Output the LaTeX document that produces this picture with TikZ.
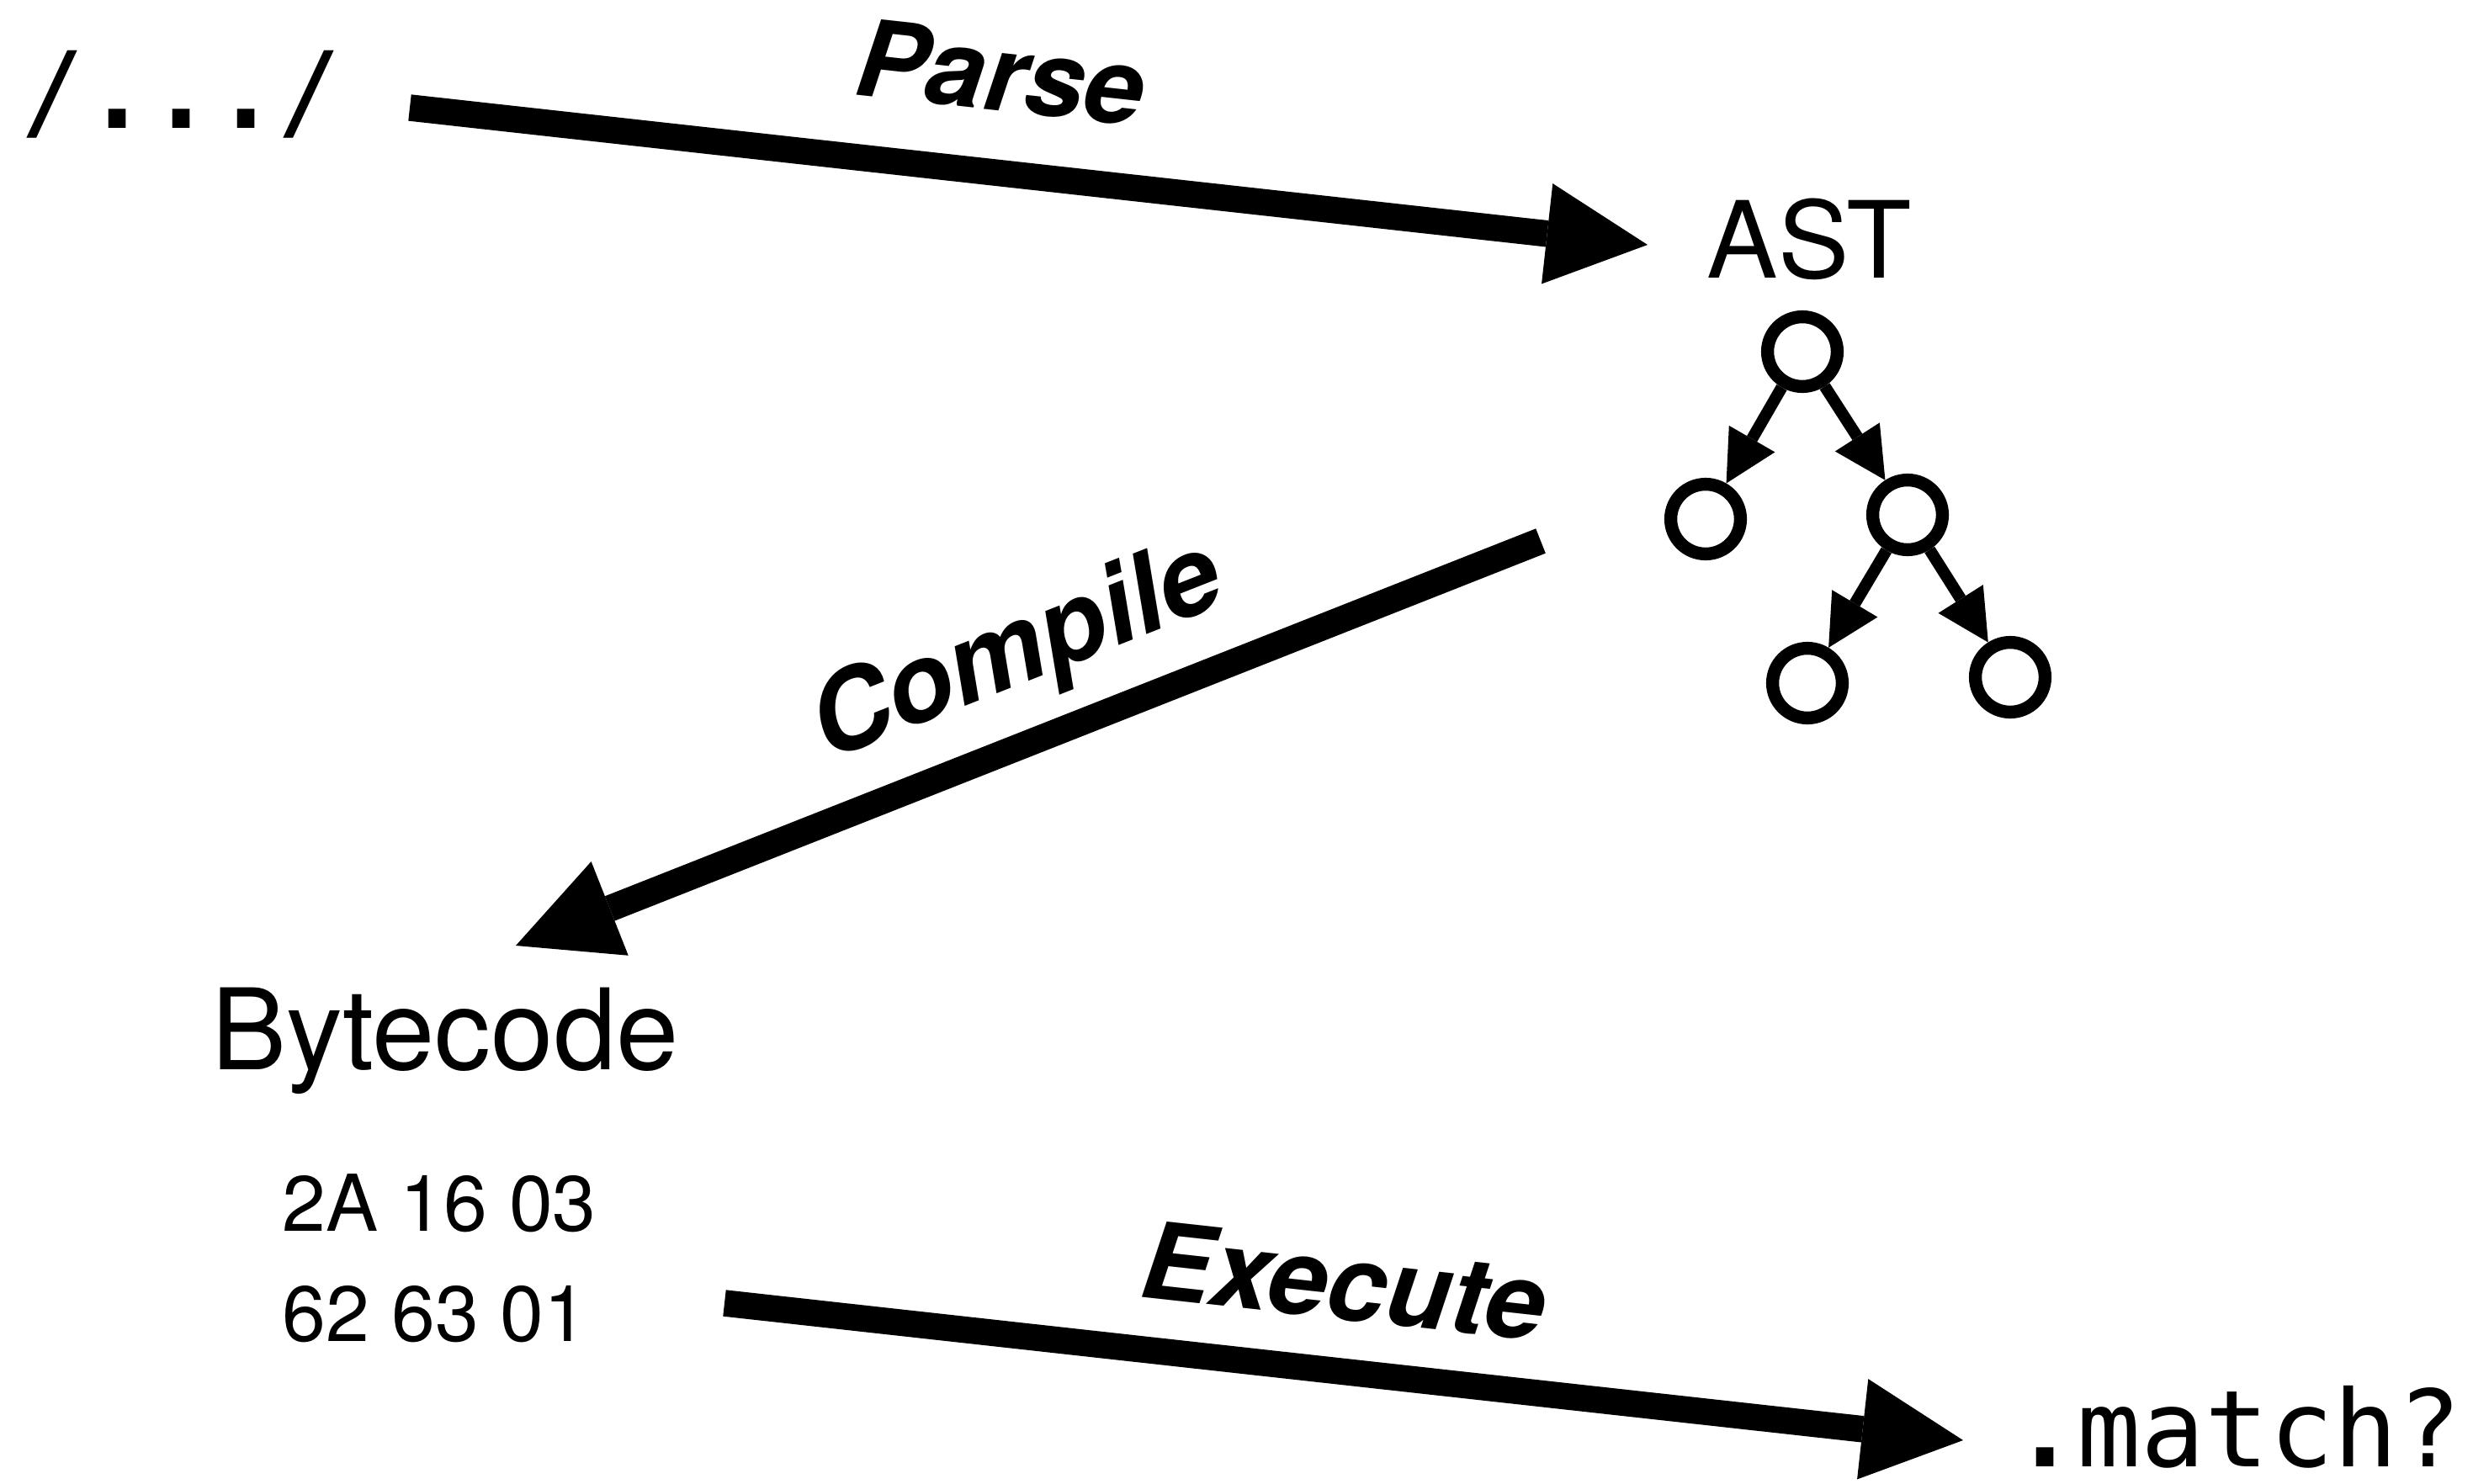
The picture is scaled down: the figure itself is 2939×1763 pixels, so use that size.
\documentclass[tikz,border=0pt]{standalone}
\usepackage{fontspec}
\setmainfont{TeX Gyre Heros}
\newfontfamily\codefont{DejaVu Sans Mono}
\usetikzlibrary{arrows.meta}

% heavy square full stops, as in the code font used for regexes
\newcommand{\hdot}{{\bfseries .}}

\begin{document}
\begin{tikzpicture}[x=0.01cm,y=-0.01cm,
  bigflow/.style={line width=0.315cm,
    -{Triangle[length=1.2cm,width=1.2cm,line width=0pt]}},
  treeedge/.style={line width=0.14cm,
    -{Triangle[length=0.61cm,width=0.63cm,line width=0pt]}},
  astnode/.style={circle, draw, line width=0.153cm, minimum size=0.828cm, inner sep=0pt},
  stage/.style={inner sep=0pt, anchor=base, font=\fontsize{36pt}{40pt}\selectfont},
  code/.style={inner sep=0pt, anchor=base, font=\codefont\fontsize{36pt}{40pt}\selectfont},
  hex/.style={inner sep=0pt, anchor=base west, font=\fontsize{26.5pt}{30pt}\selectfont},
  steplabel/.style={inner sep=0pt, anchor=base, font=\bfseries\itshape\fontsize{36pt}{40pt}\selectfont},
]
\useasboundingbox (0,0) rectangle (2939,1763);

% stages of the pipeline
\node[code] (regex) at (216,152) {/\hdot\hdot\hdot/};
\node[stage] (ast) at (2150,330) {AST};
\node[stage, font=\fontsize{38pt}{42pt}\selectfont] (bytecode) at (529,1271) {Bytecode};
\node[hex] (hexa) at (335,1463) {2A 16 03};
\node[hex] (hexb) at (335,1594) {62 63 01};
\node[code] (match) at (2659,1743) {\hdot match?};

% syntax tree
\node[astnode] (root) at (2142,418) {};
\node[astnode] (lf) at (2027,617) {};
\node[astnode] (rt) at (2267,612) {};
\node[astnode] (rl) at (2148,812) {};
\node[astnode] (rr) at (2389,805) {};
\draw[treeedge] (root) -- (lf);
\draw[treeedge] (root) -- (rt);
\draw[treeedge] (rt) -- (rl);
\draw[treeedge] (rt) -- (rr);

% big arrows between stages
\coordinate (parseS) at (487,128);
\coordinate (parseE) at (1958,291);
\coordinate (compS) at (1831,643);
\coordinate (compE) at (613,1124);
\coordinate (execS) at (861,1549);
\coordinate (execE) at (2333,1712);
\draw[bigflow] (parseS) -- (parseE);
\draw[bigflow] (compS) -- (compE);
\draw[bigflow] (execS) -- (execE);

% step labels
\node[steplabel, rotate=-6.3] (parse) at (1184,131) {Parse};
\node[steplabel, rotate=21.5, font=\bfseries\itshape\fontsize{37pt}{41pt}\selectfont] (compile) at (1222,810) {Compile};
\node[steplabel, rotate=-6.3] (execute) at (1592,1568) {Execute};
\end{tikzpicture}
\end{document}
